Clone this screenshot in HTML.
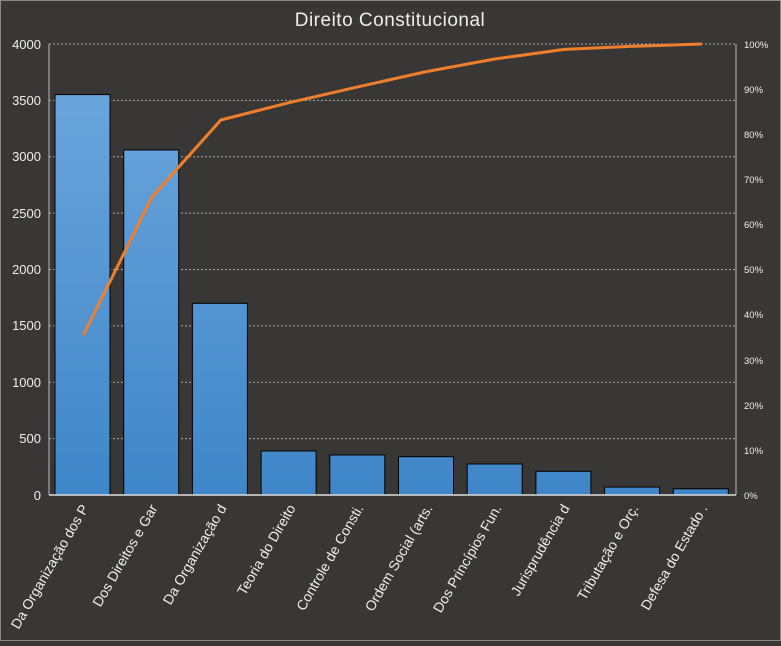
<!DOCTYPE html><html><head><style>body{margin:0;background:#383735}</style></head><body>
<svg width="781" height="641" xmlns="http://www.w3.org/2000/svg" font-family="Liberation Sans, sans-serif">
<defs><linearGradient id="g" x1="0" y1="44" x2="0" y2="495" gradientUnits="userSpaceOnUse"><stop offset="0" stop-color="#6fa8de"/><stop offset="1" stop-color="#3f86c8"/></linearGradient></defs>
<rect x="0.5" y="0.5" width="780" height="640" fill="#383735" stroke="#8a8a8a"/>
<text x="390" y="26" text-anchor="middle" fill="#eee" font-size="19" letter-spacing="0.5">Direito Constitucional</text>
<g stroke="#aaa" stroke-dasharray="2,2" stroke-width="1">
<line x1="49" x2="736" y1="44" y2="44"/><line x1="49" x2="736" y1="100.4" y2="100.4"/><line x1="49" x2="736" y1="156.8" y2="156.8"/><line x1="49" x2="736" y1="213.1" y2="213.1"/><line x1="49" x2="736" y1="269.5" y2="269.5"/><line x1="49" x2="736" y1="325.9" y2="325.9"/><line x1="49" x2="736" y1="382.3" y2="382.3"/><line x1="49" x2="736" y1="438.6" y2="438.6"/>
</g>
<line x1="49" x2="49" y1="44" y2="495" stroke="#bbb"/><line x1="736" x2="736" y1="44" y2="495" stroke="#bbb"/>
<g fill="url(#g)" stroke="#000" stroke-width="1">
<rect x="55" y="94.6" width="55" height="400.4"/>
<rect x="123.7" y="150" width="55" height="345"/>
<rect x="192.4" y="303.3" width="55" height="191.7"/>
<rect x="261.1" y="451" width="55" height="44"/>
<rect x="329.8" y="455" width="55" height="40"/>
<rect x="398.5" y="456.7" width="55" height="38.3"/>
<rect x="467.2" y="464" width="55" height="31"/>
<rect x="535.9" y="471.3" width="55" height="23.7"/>
<rect x="604.6" y="487.1" width="55" height="7.9"/>
<rect x="673.3" y="488.8" width="55" height="6.2"/>
</g>
<line x1="49" x2="736" y1="495" y2="495" stroke="#ddd" stroke-width="1.5"/>
<polyline fill="none" stroke="#f07f2c" stroke-width="3" stroke-linejoin="round" points="83.4,335 152,197 220.8,120 289.5,102.6 358.2,86.8 426.9,71.5 495.6,58.9 564.3,49.4 633,46.3 701.7,44"/>
<g fill="#eee" font-size="13" text-anchor="end">
<text x="41" y="49">4000</text><text x="41" y="105">3500</text><text x="41" y="161">3000</text><text x="41" y="218">2500</text><text x="41" y="274">2000</text><text x="41" y="330">1500</text><text x="41" y="387">1000</text><text x="41" y="443">500</text><text x="41" y="500">0</text>
</g>
<g fill="#eee" font-size="9.5">
<text x="744" y="48">100%</text><text x="744" y="93">90%</text><text x="744" y="138">80%</text><text x="744" y="183">70%</text><text x="744" y="228">60%</text><text x="744" y="273">50%</text><text x="744" y="318">40%</text><text x="744" y="364">30%</text><text x="744" y="409">20%</text><text x="744" y="454">10%</text><text x="744" y="499">0%</text>
</g>
<g fill="#eee" font-size="14" text-anchor="end">
<text transform="translate(89,508) rotate(-60)">Da Organização dos P</text>
<text transform="translate(158,508) rotate(-60)">Dos Direitos e Gar</text>
<text transform="translate(227,508) rotate(-60)">Da Organização d</text>
<text transform="translate(296,508) rotate(-60)">Teoria do Direito</text>
<text transform="translate(364,508) rotate(-60)">Controle de Consti.</text>
<text transform="translate(433,508) rotate(-60)">Ordem Social (arts.</text>
<text transform="translate(502,508) rotate(-60)">Dos Princípios Fun.</text>
<text transform="translate(570,508) rotate(-60)">Jurisprudência d</text>
<text transform="translate(639,508) rotate(-60)">Tributação e Orç.</text>
<text transform="translate(708,508) rotate(-60)">Defesa do Estado .</text>
</g>
</svg></body></html>
